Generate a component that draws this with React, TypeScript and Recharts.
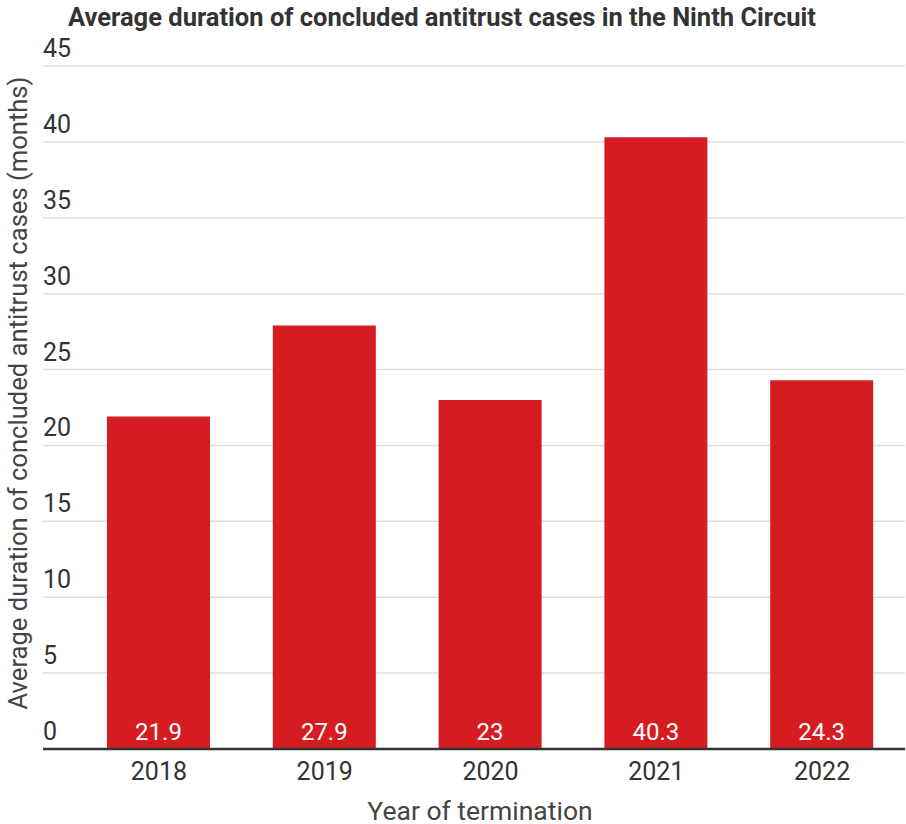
import React from "react";
import { BarChart, Bar, XAxis, YAxis, CartesianGrid, LabelList } from "recharts";

const years = ["2018", "2019", "2020", "2021", "2022"];
const durations = [21.9, 27.9, 23, 40.3, 24.3];
const yTicks = [0, 5, 10, 15, 20, 25, 30, 35, 40, 45];

const data = years.map((y, i) => ({ year: y, value: durations[i] }));

const FONT = "Roboto, 'Noto Sans', sans-serif";
const TEXT = "#333333";

const YTick = (props: any) => {
  const { y, payload } = props;
  return (
    <text x={43} y={y - 9} textAnchor="start" fontFamily={FONT} fontSize={25} fill={TEXT}>
      {payload.value}
    </text>
  );
};

const XTick = (props: any) => {
  const { x, payload } = props;
  return (
    <text x={x} y={780} textAnchor="middle" fontFamily={FONT} fontSize={25} fill={TEXT}>
      {payload.value}
    </text>
  );
};

const ValueLabel = (props: any) => {
  const { x, y, width, height, value } = props;
  return (
    <text x={x + width / 2} y={y + height - 9} textAnchor="middle" fontFamily={FONT} fontSize={24} fill="#ffffff">
      {value}
    </text>
  );
};

export default function App() {
  return (
    <div style={{ position: "absolute", left: 0, top: 0, width: 906, height: 824, background: "#fff" }}>
      <div
        style={{
          position: "absolute",
          left: 68,
          top: 2,
          fontFamily: FONT,
          fontWeight: 700,
          fontSize: 25.5,
          color: TEXT,
          whiteSpace: "nowrap",
        }}
      >
        Average duration of concluded antitrust cases in the Ninth Circuit
      </div>
      <div
        style={{
          position: "absolute",
          left: 18,
          top: 393,
          transform: "translate(-50%, -50%) rotate(-90deg)",
          fontFamily: FONT,
          fontSize: 25.6,
          color: "#444",
          whiteSpace: "nowrap",
        }}
      >
        Average duration of concluded antitrust cases (months)
      </div>
      <div
        style={{
          position: "absolute",
          left: 480,
          top: 810,
          transform: "translate(-50%, -50%)",
          fontFamily: FONT,
          fontSize: 26.5,
          color: "#444",
          whiteSpace: "nowrap",
        }}
      >
        Year of termination
      </div>
      <div style={{ position: "absolute", left: 0, top: 0 }}>
        <BarChart
          width={906}
          height={824}
          data={data}
          margin={{ top: 66, right: 1, bottom: 45, left: 42 }}
        >
          <CartesianGrid vertical={false} stroke="#dddddd" strokeWidth={1.5} />
          <XAxis
            dataKey="year"
            height={30}
            padding={{ left: 33, right: 0 }}
            axisLine={{ stroke: "#333333", strokeWidth: 2.5 }}
            tickLine={false}
            tick={<XTick />}
            interval={0}
          />
          <YAxis
            width={1}
            domain={[0, 45]}
            ticks={yTicks}
            axisLine={false}
            tickLine={false}
            tick={<YTick />}
            interval={0}
          />
          <Bar dataKey="value" fill="#d51c21" barSize={103} isAnimationActive={false}>
            <LabelList dataKey="value" content={<ValueLabel />} />
          </Bar>
        </BarChart>
      </div>
    </div>
  );
}
